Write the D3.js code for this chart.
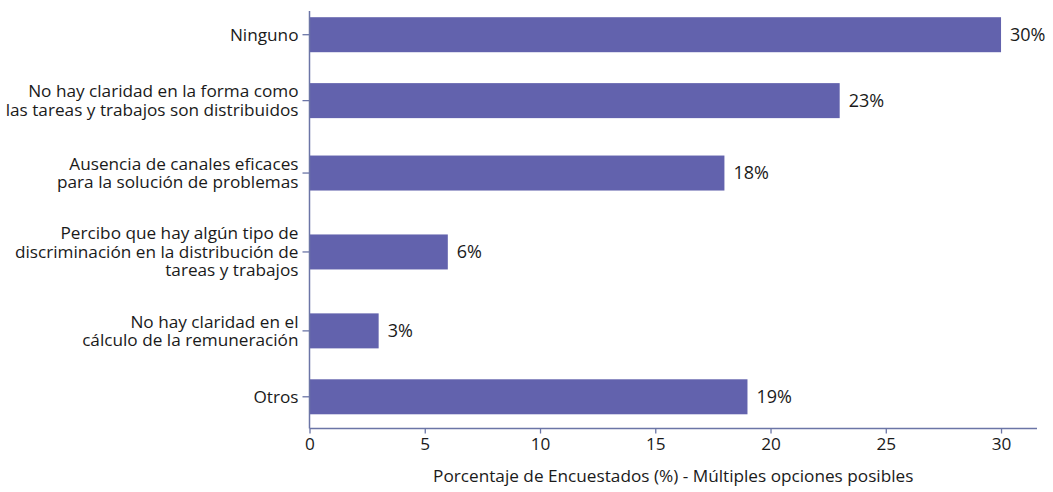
<!DOCTYPE html>
<html>
<head>
<meta charset="utf-8">
<script src="https://cdn.jsdelivr.net/npm/d3@7"></script>
<style>
  html, body { margin: 0; padding: 0; background: #ffffff; }
  svg { display: block; }
  text { font-family: "Open Sans", "Noto Sans", sans-serif; fill: #1a1a1a; }
</style>
</head>
<body>
<svg id="chart" width="1053" height="492"></svg>
<script>
// ---- data ----
const categories = [
  "Ninguno",
  "No hay claridad en la forma como\nlas tareas y trabajos son distribuidos",
  "Ausencia de canales eficaces\npara la solución de problemas",
  "Percibo que hay algún tipo de\ndiscriminación en la distribución de\ntareas y trabajos",
  "No hay claridad en el\ncálculo de la remuneración",
  "Otros"
];
const values = [30, 23, 18, 6, 3, 19];
const valueLabels = ["30%", "23%", "18%", "6%", "3%", "19%"];
const xTicks = [0, 5, 10, 15, 20, 25, 30];
const xTickLabels = ["0", "5", "10", "15", "20", "25", "30"];
const xTitle = "Porcentaje de Encuestados (%) - Múltiples opciones posibles";

// ---- layout ----
const mLeft = 309.5, mRight = 1037, mTop = 5, mBottom = 428.5;
const barColor = "#6262ad";
const axisColor = "#6b75a6";
const fontSize = 17.2;
const valueFontSize = 18;

const svg = d3.select("#chart");

const x = d3.scaleLinear().domain([0, 31.56]).range([mLeft, mRight]);

// category slots sized by number of label lines
const nLines = categories.map(c => c.split("\n").length);
const weights = nLines.map(n => 3.57 + n);
const total = d3.sum(weights);
const starts = [0, ...Array.from(d3.cumsum(weights)).slice(0, -1)];
const yLin = d3.scaleLinear().domain([0, total]).range([mTop, 426.5]);
const yCenter = i => yLin(starts[i] + weights[i] / 2);
const barH = 35;

// bars
svg.append("g").selectAll("rect")
  .data(values)
  .join("rect")
  .attr("x", x(0))
  .attr("y", (d, i) => yCenter(i) - barH / 2)
  .attr("width", d => x(d) - x(0))
  .attr("height", barH)
  .attr("fill", barColor);

// value labels
svg.append("g").selectAll("text")
  .data(values)
  .join("text")
  .attr("x", d => x(d) + 9)
  .attr("y", (d, i) => yCenter(i))
  .attr("dy", "0.35em")
  .attr("font-size", valueFontSize)
  .text((d, i) => valueLabels[i]);

// y axis line
svg.append("line")
  .attr("x1", mLeft).attr("x2", mLeft)
  .attr("y1", 11).attr("y2", mBottom)
  .attr("stroke", axisColor).attr("stroke-width", 1.5);

// y ticks + labels
const yg = svg.append("g");
categories.forEach((c, i) => {
  const cy = yCenter(i);
  yg.append("line")
    .attr("x1", mLeft - 7).attr("x2", mLeft)
    .attr("y1", cy).attr("y2", cy)
    .attr("stroke", axisColor).attr("stroke-width", 1.3);
  const lines = c.split("\n");
  const lh = 18.5;
  const t = yg.append("text")
    .attr("text-anchor", "end")
    .attr("font-size", fontSize);
  lines.forEach((ln, j) => {
    t.append("tspan")
      .attr("x", mLeft - 11)
      .attr("y", cy + (j - (lines.length - 1) / 2) * lh)
      .attr("dy", "0.35em")
      .text(ln);
  });
});

// x axis
const xAxis = d3.axisBottom(x)
  .tickValues(xTicks)
  .tickFormat((d, i) => xTickLabels[i])
  .tickSize(5)
  .tickPadding(4);
const xg = svg.append("g")
  .attr("transform", `translate(0,${mBottom})`)
  .call(xAxis);
xg.select(".domain").attr("stroke", axisColor).attr("stroke-width", 1.5)
  .attr("d", `M${mLeft},0H${mRight}`);
xg.selectAll(".tick line").attr("stroke", axisColor).attr("stroke-width", 1.3);
xg.selectAll(".tick text")
  .attr("font-size", fontSize)
  .attr("font-family", '"Open Sans", "Noto Sans", sans-serif')
  .attr("fill", "#1a1a1a");

// x title
svg.append("text")
  .attr("x", (mLeft + mRight) / 2)
  .attr("y", 476)
  .attr("text-anchor", "middle")
  .attr("dy", "0.35em")
  .attr("font-size", fontSize)
  .text(xTitle);
</script>
</body>
</html>
